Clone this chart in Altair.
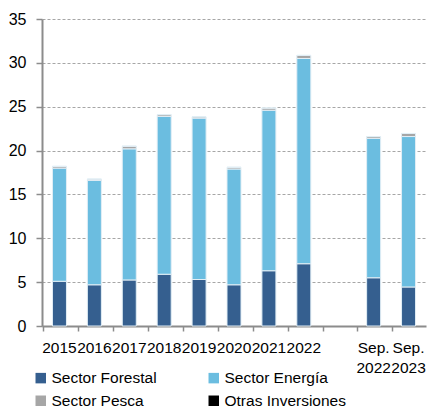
import altair as alt
import pandas as pd

# Periods on the x axis (a blank slot separates the annual and September bars)
periods = ["2015", "2016", "2017", "2018", "2019", "2020", "2021", "2022", "Sep. 2022", "Sep. 2023"]
axis_domain = ["2015", "2016", "2017", "2018", "2019", "2020", "2021", "2022", "gap", "Sep. 2022", "Sep. 2023"]

# Segment values per period
forestal = [5.1, 4.7, 5.25, 5.9, 5.3, 4.7, 6.3, 7.1, 5.5, 4.45]
energia = [12.9, 11.9, 14.95, 18.0, 18.4, 13.2, 18.3, 23.4, 15.9, 17.15]
pesca = [0.2, 0.15, 0.3, 0.2, 0.15, 0.2, 0.25, 0.35, 0.2, 0.35]
otras = [0.0, 0.0, 0.0, 0.0, 0.0, 0.0, 0.0, 0.0, 0.0, 0.0]

# Stacking order (bottom to top)
series = ["Sector Forestal", "Sector Energía", "Sector Pesca", "Otras Inversiones"]
# Legend is filled column by column, so list it in that order
legend_order = ["Sector Forestal", "Sector Pesca", "Sector Energía", "Otras Inversiones"]
legend_colors = ["#355F8F", "#A6A6A6", "#6BBDE0", "#000000"]

rows = []
for i, p in enumerate(periods):
    for k, (name, vals) in enumerate(zip(series, [forestal, energia, pesca, otras])):
        rows.append({"periodo": p, "serie": name, "valor": vals[i], "orden": k})
df = pd.DataFrame(rows)

font = "Liberation Sans"

chart = (
    alt.Chart(df)
    .mark_bar(width=14, stroke="#E2EEF5", strokeWidth=1)
    .encode(
        x=alt.X(
            "periodo:N",
            scale=alt.Scale(domain=axis_domain),
            sort=axis_domain,
            axis=alt.Axis(
                title=None,
                labelAngle=0,
                labelExpr="datum.label == 'gap' ? '' : split(datum.label, ' ')",
                labelFont=font,
                labelFontSize=15.5,
                labelColor="#000000",
                labelPadding=9,
                labelLineHeight=20,
                labelBaseline="top",
                bandPosition=0,
                tickColor="#8C8C8C",
                tickSize=5,
                tickWidth=1.5,
                domainColor="#8C8C8C",
                domainWidth=2,
                grid=False,
            ),
        ),
        y=alt.Y(
            "valor:Q",
            stack="zero",
            scale=alt.Scale(domain=[0, 35], nice=False),
            axis=alt.Axis(
                title=None,
                values=[0, 5, 10, 15, 20, 25, 30, 35],
                labelFont=font,
                labelFontSize=16,
                labelColor="#000000",
                labelPadding=10,
                tickColor="#8C8C8C",
                tickSize=6,
                tickWidth=1.5,
                domainColor="#8C8C8C",
                domainWidth=2,
                grid=True,
                gridColor="#A6A6A6",
                gridDash=[3, 2],
                gridWidth=1,
            ),
        ),
        color=alt.Color(
            "serie:N",
            scale=alt.Scale(domain=legend_order, range=legend_colors),
            legend=alt.Legend(
                title=None,
                orient="none",
                legendX=-9,
                legendY=351,
                columns=2,
                columnPadding=49,
                rowPadding=6,
                symbolType="square",
                symbolSize=110,
                symbolStrokeWidth=0,
                labelFont=font,
                labelFontSize=15.5,
                labelColor="#000000",
                labelOffset=3,
            ),
        ),
        order=alt.Order("orden:Q", sort="ascending"),
    )
    .properties(
        width=384,
        height=307,
        autosize=alt.AutoSizeParams(type="none"),
        padding={"left": 42, "top": 19, "right": 1, "bottom": 85},
    )
    .configure_view(stroke=None)
)

chart.save("out.html", embed_options={"renderer": "svg", "actions": False})
